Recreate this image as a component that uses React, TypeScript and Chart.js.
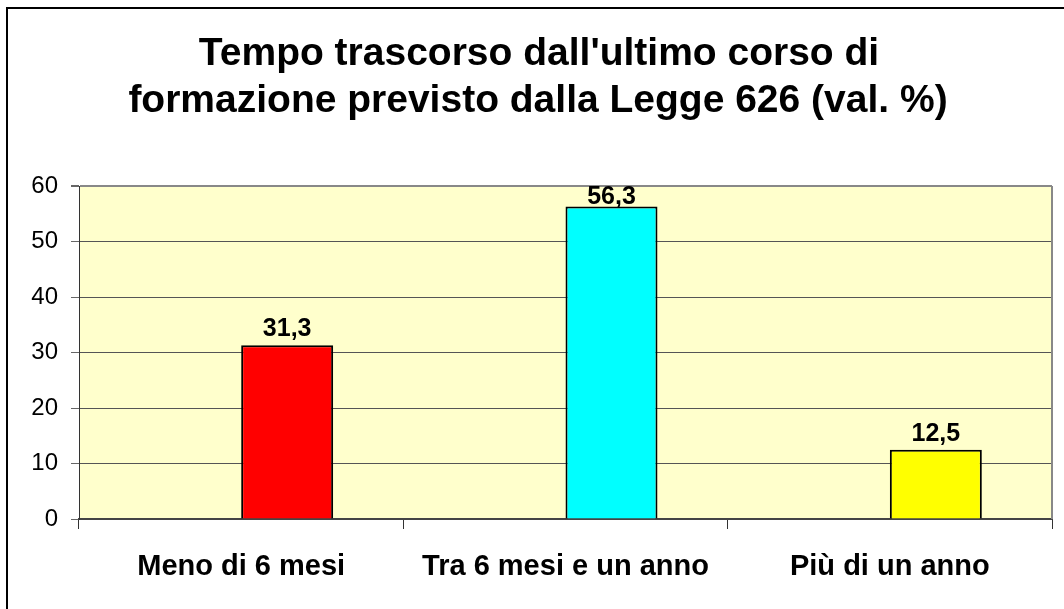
import React, { useEffect, useRef } from "react";
import { Chart, registerables } from "chart.js";

Chart.register(...registerables);

const titleLines = ["Tempo trascorso dall'ultimo corso di", "formazione previsto dalla Legge 626 (val. %)"];
const categories = ["Meno di 6 mesi", "Tra 6 mesi e un anno", "Più di un anno"];
const values = [31.3, 56.3, 12.5];
const emptySeries = [null, null, null];
const barColors = ["#FF0000", "#00FFFF", "#FFFF00"];
const valueLabels = ["31,3", "56,3", "12,5"];

const FONT = "'Liberation Sans', Arial, Helvetica, sans-serif";

const decorPlugin = {
  id: "decor",
  beforeDraw(chart: any) {
    const { ctx, chartArea } = chart;
    ctx.save();
    ctx.fillStyle = "#FFFFFF";
    ctx.fillRect(0, 0, chart.width, chart.height);
    ctx.fillStyle = "#FFFFCC";
    ctx.fillRect(chartArea.left, chartArea.top, chartArea.right - chartArea.left, chartArea.bottom - chartArea.top);
    // outer frame (top and left visible)
    ctx.fillStyle = "#000000";
    ctx.fillRect(6, 7, 2, chart.height - 7);
    ctx.fillRect(6, 7, chart.width - 6, 2);
    // title
    ctx.fillStyle = "#000000";
    ctx.font = "bold 39px " + FONT;
    ctx.textAlign = "center";
    ctx.textBaseline = "alphabetic";
    ctx.fillText(titleLines[0], 539, 65);
    ctx.fillText(titleLines[1], 538, 112);
    ctx.restore();
  },
  afterDatasetsDraw(chart: any) {
    const { ctx, chartArea } = chart;
    ctx.save();
    ctx.strokeStyle = "#888888";
    ctx.lineWidth = 2;
    ctx.beginPath();
    ctx.moveTo(chartArea.right, chartArea.top);
    ctx.lineTo(chartArea.right, chartArea.bottom);
    ctx.stroke();
    const meta = chart.getDatasetMeta(1);
    ctx.fillStyle = "#000000";
    ctx.font = "bold 25px " + FONT;
    ctx.textAlign = "center";
    ctx.textBaseline = "alphabetic";
    meta.data.forEach((bar: any, i: number) => {
      let y = bar.y - 9;
      if (y < chartArea.top + 18) y = chartArea.top + 18;
      ctx.fillText(valueLabels[i], bar.x, y);
    });
    ctx.restore();
  },
};

export default function App() {
  const ref = useRef<HTMLCanvasElement | null>(null);
  useEffect(() => {
    if (!ref.current) return;
    const chart = new Chart(ref.current, {
      type: "bar",
      data: {
        labels: categories,
        datasets: [
          { data: emptySeries as any, backgroundColor: "#9999FF" },
          {
            data: values,
            backgroundColor: barColors,
            borderColor: "#000000",
            borderWidth: 2,
          },
        ],
      },
      options: {
        responsive: false,
        animation: false,
        devicePixelRatio: 1,
        layout: { padding: { top: 186, left: 0, right: 12, bottom: 0 } },
        datasets: { bar: { categoryPercentage: 0.5673, barPercentage: 1 } },
        plugins: {
          legend: { display: false },
          title: { display: false },
          tooltip: { enabled: false },
        },
        scales: {
          x: {
            grid: {
              display: true,
              drawOnChartArea: false,
              drawTicks: true,
              tickLength: 10,
              color: "#333333",
              offset: true,
            },
            border: { display: true, color: "#444444", width: 2 },
            ticks: {
              color: "#000000",
              font: { family: FONT, size: 29, weight: "bold" },
              padding: 21,
              maxRotation: 0,
            },
            afterFit(scale: any) {
              scale.height = 90;
            },
          },
          y: {
            min: 0,
            max: 60,
            ticks: {
              stepSize: 10,
              color: "#000000",
              font: { family: FONT, size: 24 },
              padding: 13,
            },
            grid: {
              color: (c: any) => (c.tick && c.tick.value === 60 ? "#888888" : "#555555"),
              lineWidth: (c: any) => (c.tick && c.tick.value === 60 ? 2 : 1),
              tickColor: "#666666",
              tickLength: 8,
            },
            border: { display: true, color: "#333333", width: 1 },
            afterFit(scale: any) {
              scale.width = 79;
            },
          },
        },
      },
      plugins: [decorPlugin],
    });
    return () => chart.destroy();
  }, []);
  return (
    <div style={{ position: "absolute", left: 0, top: 0, width: 1064, height: 609, background: "#fff" }}>
      <canvas ref={ref} width={1064} height={609} />
    </div>
  );
}
